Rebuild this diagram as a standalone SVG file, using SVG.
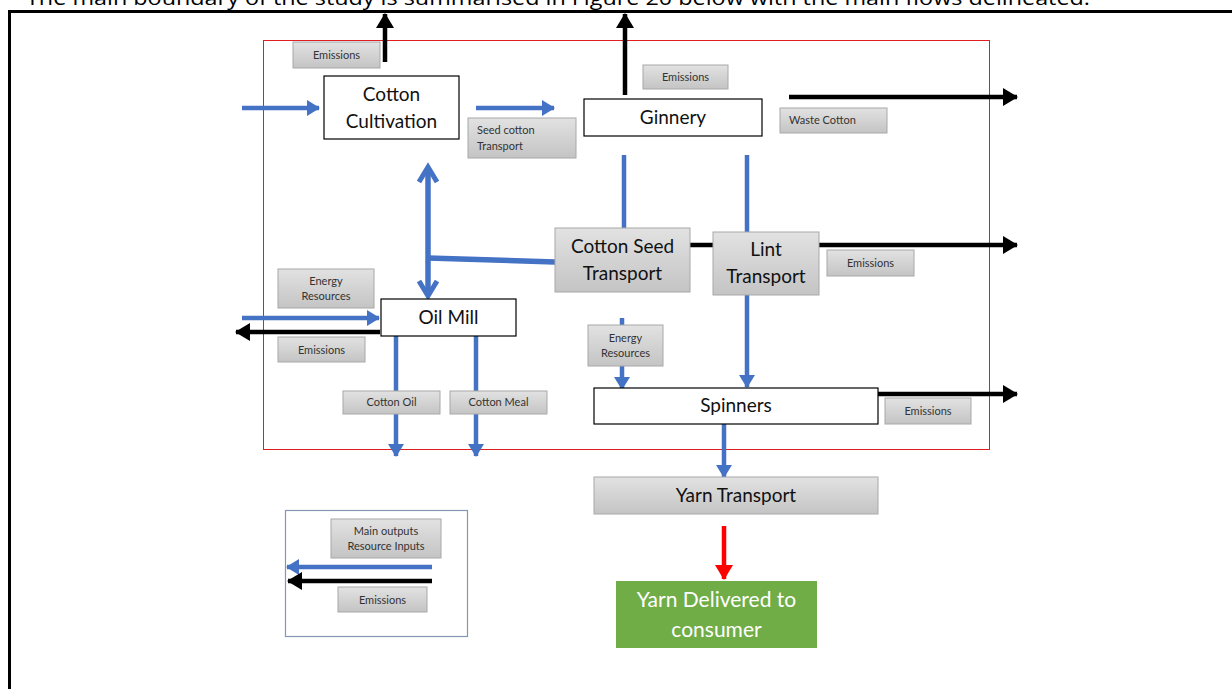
<svg xmlns="http://www.w3.org/2000/svg" width="1232" height="689" viewBox="0 0 1232 689">
<defs>
<linearGradient id="gray" x1="0" y1="0" x2="0" y2="1">
<stop offset="0" stop-color="#e2e2e2"/>
<stop offset="1" stop-color="#c4c4c4"/>
</linearGradient>
<marker id="ab" markerUnits="userSpaceOnUse" markerWidth="14" markerHeight="16" refX="12" refY="8" orient="auto">
<path d="M0,0 L13,8 L0,16 Z" fill="#4472C4"/>
</marker>
<marker id="ak" markerUnits="userSpaceOnUse" markerWidth="16" markerHeight="18" refX="14" refY="9" orient="auto">
<path d="M0,0 L15,9 L0,18 Z" fill="#000"/>
</marker>
<marker id="ar" markerUnits="userSpaceOnUse" markerWidth="16" markerHeight="18" refX="14" refY="9" orient="auto">
<path d="M0,0 L15,9 L0,18 Z" fill="#FF0000"/>
</marker>
</defs>
<style>
.cap{font-family:"Open Sans","Noto Sans",sans-serif;font-size:20px;fill:#000}
.node{fill:#fff;stroke:#000;stroke-width:1.2}
.gbox{fill:url(#gray);stroke:#a8a8a8;stroke-width:1}
.t{font-family:Lato,"Open Sans",sans-serif;fill:#111;text-anchor:middle}
.big{font-size:19px}
.sm{font-size:11px;fill:#333}
.blue{stroke:#4472C4;stroke-width:4.5;fill:none}
.blk{stroke:#000;stroke-width:4.5;fill:none}
</style>
<rect width="1232" height="689" fill="#fff"/>
<text class="cap" x="26" y="5" textLength="1064" lengthAdjust="spacingAndGlyphs">The main boundary of the study is summarised in Figure 20 below with the main flows delineated.</text>
<rect x="9.5" y="11.5" width="1300" height="800" fill="none" stroke="#000" stroke-width="3"/>
<rect x="263.5" y="40.5" width="726" height="409" fill="none" stroke="#E02020" stroke-width="1"/>

<g id="connectors">
<line class="blk" x1="385" y1="62" x2="385" y2="14" marker-end="url(#ak)"/>
<line class="blk" x1="625" y1="95" x2="625" y2="14" marker-end="url(#ak)"/>
<line class="blue" x1="242" y1="108" x2="319" y2="108" marker-end="url(#ab)"/>
<line class="blue" x1="476" y1="108" x2="554" y2="108" marker-end="url(#ab)"/>
<line class="blk" x1="789" y1="97" x2="1017" y2="97" marker-end="url(#ak)"/>
<line class="blue" x1="624" y1="155" x2="624" y2="228"/>
<line class="blue" x1="747" y1="155" x2="747" y2="232"/>
<line class="blk" x1="690" y1="245" x2="713" y2="245"/>
<line class="blk" x1="819" y1="245" x2="1017" y2="245" marker-end="url(#ak)"/>
<path d="M555,262 L428,258" stroke="#4472C4" stroke-width="5.5" fill="none"/>
<line x1="428" y1="170" x2="428" y2="294" stroke="#4472C4" stroke-width="5.5"/>
<polyline points="419,182 428,167 437,182" stroke="#4472C4" stroke-width="5" fill="none" stroke-linejoin="miter"/>
<polyline points="419,281 428,296 437,281" stroke="#4472C4" stroke-width="5" fill="none" stroke-linejoin="miter"/>
<line class="blue" x1="242" y1="318" x2="379" y2="318" marker-end="url(#ab)"/>
<line class="blk" x1="380" y1="332" x2="236" y2="332" marker-end="url(#ak)"/>
<line class="blue" x1="396" y1="336" x2="396" y2="456" marker-end="url(#ab)"/>
<line class="blue" x1="476" y1="336" x2="476" y2="456" marker-end="url(#ab)"/>
<line class="blue" x1="622" y1="318" x2="622" y2="389" marker-end="url(#ab)"/>
<line class="blue" x1="747" y1="295" x2="747" y2="387" marker-end="url(#ab)"/>
<line class="blk" x1="878" y1="394" x2="1017" y2="394" marker-end="url(#ak)"/>
<line class="blue" x1="724" y1="424" x2="724" y2="477" marker-end="url(#ab)"/>
<line x1="724" y1="526" x2="724" y2="579" stroke="#FF0000" stroke-width="4.5" marker-end="url(#ar)"/>
</g>

<g id="em1"><rect class="gbox" x="293" y="42" width="87" height="26"/><text class="t sm" x="336.5" y="59">Emissions</text></g>
<g id="cotton-cultivation"><rect class="node" x="324" y="76" width="135" height="63"/><text class="t big" x="391.5" y="101">Cotton</text><text class="t big" x="391.5" y="128">Cultivation</text></g>
<g id="seed-cotton-transport"><rect class="gbox" x="468" y="118" width="108" height="40"/><text class="t sm" x="477" y="134" style="text-anchor:start">Seed cotton</text><text class="t sm" x="477" y="150" style="text-anchor:start">Transport</text></g>
<g id="ginnery"><rect class="node" x="584" y="99" width="178" height="37"/><text class="t big" x="673" y="124">Ginnery</text></g>
<g id="em2"><rect class="gbox" x="643" y="65" width="85" height="24"/><text class="t sm" x="685.5" y="81">Emissions</text></g>
<g id="waste-cotton"><rect class="gbox" x="780" y="108" width="107" height="25"/><text class="t sm" x="789" y="124" style="text-anchor:start">Waste Cotton</text></g>
<g id="cotton-seed-transport"><rect class="gbox" x="555" y="228" width="135" height="64"/><text class="t big" x="622.5" y="253">Cotton Seed</text><text class="t big" x="622.5" y="280">Transport</text></g>
<g id="lint-transport"><rect class="gbox" x="713" y="232" width="106" height="63"/><text class="t big" x="766" y="256">Lint</text><text class="t big" x="766" y="283">Transport</text></g>
<g id="em3"><rect class="gbox" x="827" y="250" width="87" height="26"/><text class="t sm" x="870.5" y="267">Emissions</text></g>
<g id="energy1"><rect class="gbox" x="278" y="269" width="96" height="39"/><text class="t sm" x="326" y="285">Energy</text><text class="t sm" x="326" y="300">Resources</text></g>
<g id="oil-mill"><rect class="node" x="381" y="299" width="135" height="37"/><text class="t big" x="448.5" y="324">Oil Mill</text></g>
<g id="em4"><rect class="gbox" x="278" y="337" width="87" height="25"/><text class="t sm" x="321.5" y="354">Emissions</text></g>
<g id="cotton-oil"><rect class="gbox" x="343" y="391" width="97" height="23"/><text class="t sm" x="391.5" y="406">Cotton Oil</text></g>
<g id="cotton-meal"><rect class="gbox" x="450" y="391" width="97" height="23"/><text class="t sm" x="498.5" y="406">Cotton Meal</text></g>
<g id="energy2"><rect class="gbox" x="588" y="325" width="75" height="41"/><text class="t sm" x="625.5" y="342">Energy</text><text class="t sm" x="625.5" y="357">Resources</text></g>
<g id="spinners"><rect class="node" x="594" y="388" width="284" height="36"/><text class="t big" x="736" y="412">Spinners</text></g>
<g id="em5"><rect class="gbox" x="885" y="398" width="86" height="26"/><text class="t sm" x="928" y="415">Emissions</text></g>
<g id="yarn-transport"><rect class="gbox" x="594" y="477" width="284" height="37"/><text class="t big" x="736" y="502">Yarn Transport</text></g>
<g id="yarn-delivered"><rect x="616" y="581" width="201" height="67" fill="#70AD47"/><text class="t" x="716.5" y="607" style="font-size:21px;fill:#fff">Yarn Delivered to</text><text class="t" x="716.5" y="637" style="font-size:21px;fill:#fff">consumer</text></g>

<g id="legend">
<rect x="285.5" y="510.5" width="182" height="126" fill="none" stroke="#8497B0" stroke-width="1.2"/>
<rect class="gbox" x="331" y="519" width="110" height="39"/>
<text class="t sm" x="386" y="535">Main outputs</text>
<text class="t sm" x="386" y="550">Resource Inputs</text>
<line class="blue" x1="432" y1="567" x2="287" y2="567" marker-end="url(#ab)"/>
<line class="blk" x1="432" y1="581" x2="288" y2="581" marker-end="url(#ak)"/>
<rect class="gbox" x="338" y="587" width="89" height="25"/>
<text class="t sm" x="382.5" y="604">Emissions</text>
</g>
</svg>
